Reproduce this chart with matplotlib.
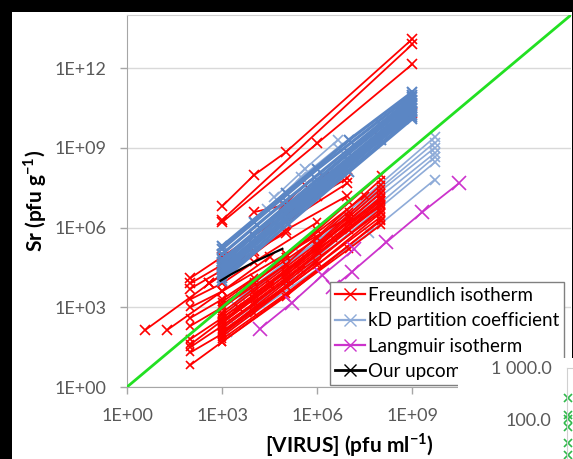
import numpy as np
import matplotlib.pyplot as plt
from matplotlib.lines import Line2D
from matplotlib.patches import Rectangle

plt.rcParams['font.family'] = ['Lato', 'DejaVu Sans']
plt.rcParams['mathtext.fontset'] = 'custom'
plt.rcParams['mathtext.rm'] = 'Lato'
plt.rcParams['mathtext.bf'] = 'Lato:bold'

# values are log10 exponents: ([log10 virus], [log10 Sr])
freundlich_upper = [
    ([3, 4, 5, 9], [6.8, 7.97, 8.83, 13.1]),
    ([3, 9], [6.28, 12.9]),
    ([3, 6, 9], [6.2, 9.17, 12.15]),
    ([4, 4.94, 5.6], [6.58, 6.84, 7.6]),
    ([6.2, 7.96, 9], [7.9, 9.4, 10.3]),
    ([2, 3, 4, 5, 6, 6.95], [4.1, 4.9, 5.7, 6.5, 7.2, 7.86]),
    ([2, 3, 5, 6.95], [3.9, 4.6, 6.2, 7.67]),
    ([2.6, 4, 5, 6.95], [3.9, 5.0, 5.9, 7.2]),
    ([2, 3, 5], [3.7, 4.4, 5.8]),
    ([0.57, 2.6, 4], [2.14, 3.9, 5.1]),
    ([1.26, 3, 4.5], [2.14, 3.6, 4.9]),
]
freundlich_cluster = [
    ([3, 4, 5, 6, 7, 8], [2.95, 3.9, 4.9, 5.9, 6.95, 7.97]),
    ([3, 5, 8], [2.8, 4.6, 7.8]),
    ([3, 4, 6, 8], [2.7, 3.6, 5.4, 7.6]),
    ([3, 5, 7, 8], [2.6, 4.3, 6.4, 7.45]),
    ([3, 4, 5, 8], [2.5, 3.3, 4.2, 7.3]),
    ([3, 6, 8], [2.4, 5.1, 7.15]),
    ([3, 5, 8], [2.3, 4.0, 7.0]),
    ([3, 4, 7, 8], [2.2, 3.1, 5.9, 6.85]),
    ([3, 5, 8], [2.1, 3.8, 6.7]),
    ([3, 6, 8], [2.0, 4.6, 6.55]),
    ([3, 4, 8], [1.9, 2.8, 6.4]),
    ([3, 5, 8], [1.8, 3.5, 6.25]),
    ([3, 7, 8], [1.7, 5.2, 6.1]),
    ([3, 5, 7.5], [3.2, 4.9, 7.2]),
    ([3, 4, 6, 7], [3.1, 3.95, 5.6, 6.6]),
    ([3.5, 5, 7, 8], [3.0, 4.4, 6.2, 7.1]),
    ([4, 6, 8], [3.5, 5.3, 7.3]),
    ([4, 5, 8], [3.2, 4.1, 6.9]),
    ([3, 4.5, 6.5, 8], [2.45, 3.9, 5.6, 7.05]),
    ([3, 5.5, 8], [2.05, 4.4, 6.6]),
    ([2, 3, 5, 8], [0.83, 1.7, 3.4, 6.3]),
    ([2, 3, 6], [1.3, 2.0, 4.7]),
    ([2, 3, 5], [1.5, 2.3, 4.0]),
    ([2, 3, 4.5], [1.6, 2.5, 3.8]),
    ([2, 3, 6, 8], [1.8, 2.6, 5.2, 6.8]),
    ([2, 3, 5], [2.3, 3.0, 4.6]),
    ([2, 3, 4], [2.6, 3.3, 4.1]),
    ([2, 3, 5, 7], [3.0, 3.6, 5.0, 6.4]),
    ([2, 3, 4, 6], [3.3, 3.9, 4.7, 6.2]),
]
kd_bundle = [
    ([3, 5, 7, 9], [5.3, 7.3, 9.3, 11.1]),
    ([3, 4, 6, 9], [5.2, 6.2, 8.2, 11.0]),
    ([3, 5, 9], [5.0, 7.0, 10.9]),
    ([3, 6, 8, 9], [4.8, 7.8, 9.85, 10.8]),
    ([3, 5, 7, 9], [4.7, 6.8, 8.8, 10.7]),
    ([3, 4, 9], [4.6, 5.7, 10.6]),
    ([3, 6, 9], [4.5, 7.6, 10.5]),
    ([3, 5, 7, 9], [4.4, 6.5, 8.5, 10.4]),
    ([3, 6, 9], [4.3, 7.4, 10.35]),
    ([3, 4, 8, 9], [4.2, 5.3, 9.3, 10.25]),
    ([3, 5, 9], [4.1, 6.2, 10.15]),
    ([3, 7, 9], [4.0, 8.1, 10.1]),
]
kd_light = [
    ([4.65, 5.6, 6.64], [7.14, 8.2, 9.29]),
    ([4.4, 5.5, 6.64], [6.7, 7.9, 9.0]),
    ([4.0, 6.0, 9.7], [3.8, 5.6, 9.4]),
    ([3.6, 6.0, 9.7], [3.4, 5.5, 9.2]),
    ([3.4, 5.5, 9.7], [3.1, 5.0, 9.0]),
    ([3.2, 5.1, 9.7], [2.6, 4.4, 8.8]),
    ([3.1, 5.1, 9.7], [2.3, 4.0, 8.65]),
    ([3.1, 5.0, 9.7], [2.1, 3.8, 8.45]),
    ([3.14, 7.64, 9.7], [2.07, 5.79, 7.8]),
]
langmuir = [
    ([4.18, 5.19, 6.16, 7.17], [2.18, 3.16, 4.2, 5.19]),
    ([6.5, 7.08, 8.18, 9.31, 10.47], [3.75, 4.32, 5.45, 6.58, 7.67]),
]
upcoming = ([2.95, 3.3, 4.0, 4.9], [4.0, 4.25, 4.7, 5.2])

tick_exp = [0, 3, 6, 9, 12]
y_tick_labels = ['1E+00', '1E+03', '1E+06', '1E+09', '1E+12']
# the 1E+12 label on x is hidden under the cropped chart in the picture
x_tick_labels = ['1E+00', '1E+03', '1E+06', '1E+09', '']
legend_labels = ['Freundlich isotherm', 'kD partition coefficient',
                 'Langmuir isotherm', 'Our upcoming study']

# cropped neighbour chart in the lower right corner
inset_values = [258, 120, 100, 70, 34, 20]
inset_ticks = [100, 1000]
inset_tick_labels = ['100.0', '1 000.0']

RED = '#ff0000'
BLUE = '#5b86c4'
LIGHT = '#8eabd8'
MAGENTA = '#cc33cc'
GREEN = '#22e022'
GRAY_TXT = '#595959'

W, H = 573, 459
fig = plt.figure(figsize=(W / 100, H / 100), dpi=100, facecolor='black')
fig.add_artist(Rectangle((12 / W, 0), (572 - 12) / W, (H - 12) / H,
                         transform=fig.transFigure, facecolor='white',
                         edgecolor='none', zorder=-1))

ax = fig.add_axes([127 / W, (H - 387) / H, (571 - 127) / W, (387 - 15) / H])
ax.set_xscale('log')
ax.set_yscale('log')
ax.set_xlim(1, 1e14)
ax.set_ylim(1, 1e14)


def draw(lines, color, lw, ms, mew, z):
    for xs, ys in lines:
        ax.plot(10.0 ** np.array(xs), 10.0 ** np.array(ys), color=color,
                lw=lw, marker='x', ms=ms, mew=mew, zorder=z)


draw(kd_light, LIGHT, 1.2, 7, 1.2, 2)
draw(freundlich_cluster, RED, 1.3, 6, 1.2, 3)
draw(freundlich_upper, RED, 1.3, 7, 1.2, 3)
draw(kd_bundle, BLUE, 2.3, 7, 1.5, 4)
draw(langmuir, MAGENTA, 1.3, 10, 1.2, 5)
draw([upcoming], 'black', 1.6, 0, 1, 5)
ax.plot([1, 1e14], [1, 1e14], color=GREEN, lw=2, zorder=6)

ticks = [10.0 ** e for e in tick_exp]
ax.set_xticks(ticks)
ax.set_xticklabels(x_tick_labels)
ax.set_yticks(ticks)
ax.set_yticklabels(y_tick_labels)
ax.minorticks_off()
ax.tick_params(colors='#a6a6a6', labelcolor=GRAY_TXT, labelsize=13,
               length=5, width=1)
ax.tick_params(axis='x', pad=10)
ax.tick_params(axis='y', pad=9.5)
ax.grid(axis='y', color='#d9d9d9', lw=1)
ax.set_axisbelow(True)
for side in ['left', 'bottom']:
    ax.spines[side].set_color('#a6a6a6')
ax.spines['top'].set_color('#d0d0d0')
ax.spines['right'].set_visible(False)

ax.set_xlabel(r'[VIRUS] (pfu ml$^{\mathbf{-1}}$)', fontsize=15,
              fontweight='bold', labelpad=5)
ax.set_ylabel(r'Sr (pfu g$^{\mathbf{-1}}$)', fontsize=15,
              fontweight='bold', labelpad=4)

handles = [
    Line2D([], [], color=RED, lw=1.6, marker='x', ms=8),
    Line2D([], [], color=LIGHT, lw=1.6, marker='x', ms=8),
    Line2D([], [], color=MAGENTA, lw=1.6, marker='x', ms=8),
    Line2D([], [], color='black', lw=2, marker='x', ms=8),
]
leg = fig.legend(handles, legend_labels, loc='upper left',
                 bbox_to_anchor=(330 / W, (H - 282) / H), fontsize=13.5,
                 frameon=True, fancybox=False, edgecolor='#808080',
                 framealpha=1, handlelength=1.6, handletextpad=0.2,
                 borderpad=0.25, labelspacing=0.45, borderaxespad=0)
leg.get_frame().set_linewidth(1)

# overlapping piece of another chart (white patch, lower right)
ov = fig.add_axes([458 / W, 0, (W - 458) / W, (H - 358) / H], zorder=10)
ov.set_facecolor('white')
ov.set_xticks([])
ov.set_yticks([])
for s in ov.spines.values():
    s.set_visible(False)

ax_in = fig.add_axes([567 / W, 0, 12 / W, (H - 368) / H], zorder=11)
ax_in.set_facecolor('none')
ax_in.set_yscale('log')
ax_in.set_ylim(1000 / 10 ** (91 / 51), 1000)
ax_in.set_xlim(0, 1)
ax_in.plot([0.1] * len(inset_values), inset_values, 'x', color='#2fb84a',
           ms=6, mew=1.2, clip_on=False)
ax_in.set_yticks(inset_ticks)
ax_in.set_yticklabels(inset_tick_labels)
ax_in.minorticks_off()
ax_in.set_xticks([])
ax_in.tick_params(axis='y', length=0, pad=11, labelsize=13,
                  labelcolor=GRAY_TXT)
for side in ['bottom', 'right']:
    ax_in.spines[side].set_visible(False)
ax_in.spines['left'].set_color('#d0d0d0')
ax_in.spines['top'].set_color('#d0d0d0')

fig.savefig('out.png', dpi=100, facecolor=fig.get_facecolor())
